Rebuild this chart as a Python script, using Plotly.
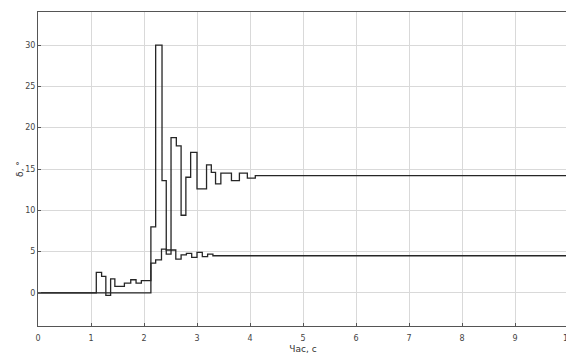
import plotly.graph_objects as go

# Step (sample-and-hold) signals: breakpoints (s) and held values
t_upper = [0, 2.13, 2.22, 2.34, 2.42, 2.51, 2.61, 2.70, 2.79, 2.88, 3.00, 3.18, 3.27, 3.35, 3.45, 3.65, 3.80, 3.95, 4.10, 10]
v_upper = [0, 8.0, 30.0, 13.6, 5.2, 18.8, 17.8, 9.4, 14.0, 17.0, 12.6, 15.5, 14.6, 13.2, 14.5, 13.6, 14.5, 13.9, 14.2, 14.2]

t_lower = [0, 1.10, 1.20, 1.28, 1.37, 1.45, 1.63, 1.75, 1.85, 1.95, 2.13, 2.22, 2.33, 2.42, 2.51, 2.60, 2.70, 2.80, 2.90, 3.00, 3.10, 3.20, 3.30, 10]
v_lower = [0, 2.5, 2.0, -0.3, 1.7, 0.8, 1.2, 1.6, 1.2, 1.5, 3.6, 4.0, 5.3, 4.7, 5.2, 4.1, 4.6, 4.8, 4.3, 4.9, 4.4, 4.7, 4.5, 4.5]

x_ticks = [0, 1, 2, 3, 4, 5, 6, 7, 8, 9, 10]
y_ticks = [0, 5, 10, 15, 20, 25, 30]

fig = go.Figure()
for t, v in [(t_upper, v_upper), (t_lower, v_lower)]:
    fig.add_trace(go.Scatter(x=t, y=v, mode="lines", line=dict(shape="hv", color="#262626", width=1.3),
                             showlegend=False, hoverinfo="skip"))

axis_common = dict(showgrid=True, gridcolor="#d9d9d9", gridwidth=1, showline=True, linecolor="#555555",
                   linewidth=1, mirror=True, ticks="inside", ticklen=3, tickcolor="#555555",
                   zeroline=False, automargin=False, ticklabeloverflow="allow",
                   tickfont=dict(family="DejaVu Sans", size=8, color="#444444"))

fig.update_layout(
    width=566, height=348,
    margin=dict(l=30, r=6, t=4, b=30),
    paper_bgcolor="white", plot_bgcolor="white",
    xaxis=dict(range=[0, 10], tickvals=x_ticks, ticklabelstandoff=4,
               title=dict(text="Час, с", font=dict(family="DejaVu Sans", size=9, color="#333333"), standoff=4),
               **axis_common),
    yaxis=dict(range=[-4, 34], tickvals=y_ticks,
               title=dict(text="δ, °", font=dict(family="DejaVu Sans", size=9, color="#333333"), standoff=0),
               **axis_common),
)

fig.write_html("out.html")
